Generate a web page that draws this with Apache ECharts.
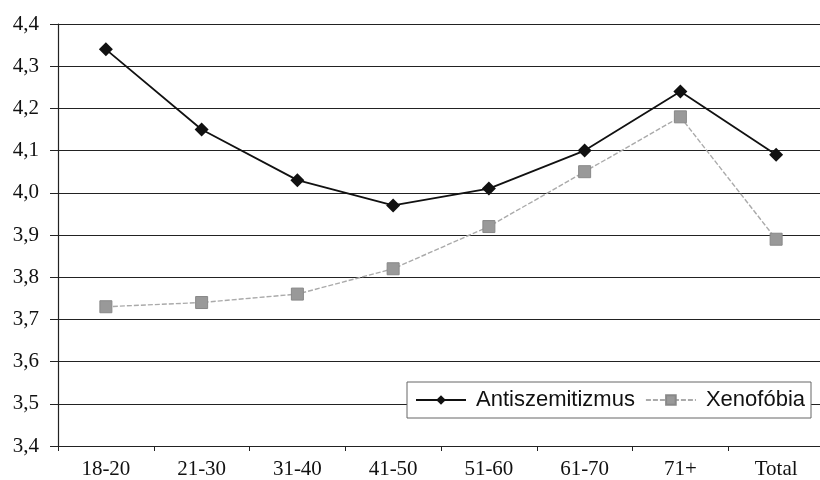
<!DOCTYPE html>
<html><head><meta charset="utf-8">
<script src="https://cdn.jsdelivr.net/npm/echarts@6/dist/echarts.min.js"></script>
<style>html,body{margin:0;padding:0;background:#fff}#c{width:820px;height:480px}</style>
</head><body><div id="c"></div>
<script>
const categories = ['18-20','21-30','31-40','41-50','51-60','61-70','71+','Total'];
const antiszemitizmus = [4.34, 4.15, 4.03, 3.97, 4.01, 4.10, 4.24, 4.09];
const xenofobia = [3.73, 3.74, 3.76, 3.82, 3.92, 4.05, 4.18, 3.89];
const yTicks = {min: 3.4, max: 4.4, interval: 0.1};

const chart = echarts.init(document.getElementById('c'));
chart.setOption({
  animation: false,
  backgroundColor: '#fff',
  grid: {left: 58, width: 766, top: 24, bottom: 34, containLabel: false, outerBoundsMode: 'none'},
  legend: {
    left: 407, top: 382,
    backgroundColor: '#fff',
    borderColor: '#666', borderWidth: 1,
    padding: [7, 6, 7, 8],
    itemWidth: 50, itemHeight: 12, itemGap: 10,
    textStyle: {fontFamily: 'Liberation Sans', fontSize: 22, color: '#111', padding: [0, 0, 0, 5]},
    data: ['Antiszemitizmus', 'Xenofóbia']
  },
  xAxis: {
    type: 'category', data: categories, boundaryGap: true,
    axisLine: {lineStyle: {color: '#222', width: 1.2}},
    axisTick: {show: true, length: 5, lineStyle: {color: '#222'}},
    axisLabel: {fontFamily: 'Liberation Serif', fontSize: 21, color: '#111', margin: 13}
  },
  yAxis: {
    type: 'value', min: yTicks.min, max: yTicks.max, interval: yTicks.interval,
    axisLine: {show: true, lineStyle: {color: '#222', width: 1.2}},
    axisTick: {show: true, length: 8, lineStyle: {color: '#222'}},
    splitLine: {lineStyle: {color: '#222', width: 1.2}},
    axisLabel: {fontFamily: 'Liberation Serif', fontSize: 21, color: '#111', margin: 19,
      formatter: v => v.toFixed(1).replace('.', ',')}
  },
  series: [
    {name: 'Antiszemitizmus', type: 'line', data: antiszemitizmus,
     symbol: 'diamond', symbolSize: 14,
     lineStyle: {color: '#111', width: 1.8},
     itemStyle: {color: '#111'}},
    {name: 'Xenofóbia', type: 'line', data: xenofobia,
     symbol: 'rect', symbolSize: 12,
     lineStyle: {color: '#aaa', width: 1.4, type: [5, 2]},
     itemStyle: {color: '#999', borderColor: '#888', borderWidth: 1}}
  ]
});
</script></body></html>
